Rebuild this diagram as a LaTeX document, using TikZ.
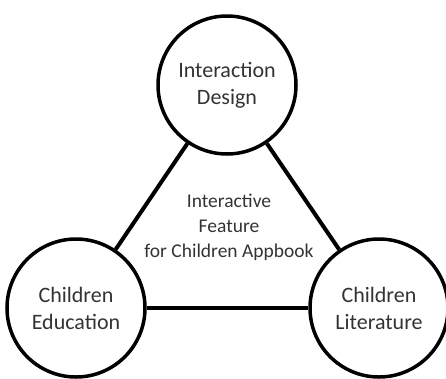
\documentclass[tikz,border=0pt]{standalone}
\usepackage{fontspec}
\setmainfont{Carlito}
\begin{document}
\begin{tikzpicture}[x=1pt,y=-1pt,
  topic/.style={circle,draw=black,line width=3.5pt,minimum size=138pt,inner sep=0pt,align=center,font=\fontsize{22}{27}\selectfont,text=black!80},
  link/.style={line width=4pt,black},
  centre/.style={align=center,font=\fontsize{19.5}{25}\selectfont,text=black!80}]
\useasboundingbox (0,0) rectangle (446,378);
\node[topic] (id) at (227,85) {Interaction\\Design};
\node[topic] (ce) at (76,308) {Children\\Education};
\node[topic] (cl) at (379,308) {Children\\Literature};
\draw[link] (id) -- (ce);
\draw[link] (id) -- (cl);
\draw[link] (ce) -- (cl);
\node[centre] (f) at (229,227) {Interactive\\Feature\\for Children Appbook};
\end{tikzpicture}
\end{document}
